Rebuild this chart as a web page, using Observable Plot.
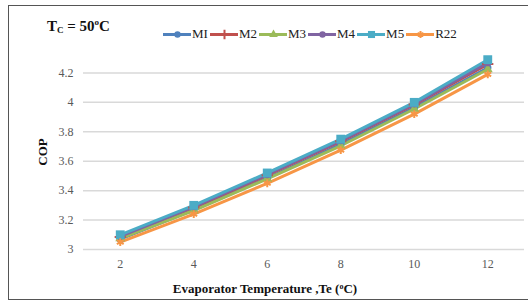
<!DOCTYPE html>
<html><head><meta charset="utf-8">
<script src="https://cdn.jsdelivr.net/npm/d3@7"></script>
<script src="https://cdn.jsdelivr.net/npm/@observablehq/plot@0.6"></script>
<style>
body{margin:0;background:#fff;font-family:"Liberation Serif","Times New Roman",serif;}
#wrap{position:relative;width:528px;height:303px;overflow:hidden;}
#frame{position:absolute;left:8px;top:5px;width:540px;height:295px;border:1.5px solid #555;box-sizing:border-box;}
#chart{position:absolute;left:0;top:0;}
#chart text{font-family:"Liberation Serif","Times New Roman",serif;}
#tc{position:absolute;left:47px;top:17px;font-weight:bold;font-size:15px;color:#111;}
#tc sub{font-size:9px;vertical-align:-2px;}
#tc sup{font-size:9px;}
#legend{position:absolute;left:163px;top:26px;display:flex;align-items:center;font-size:13px;color:#222;}
#legend .it{display:flex;align-items:center;margin-right:2px;}
#legend svg{display:block;}
</style></head><body>
<div id="wrap">
<div id="frame"></div>
<div id="chart"></div>
<div id="tc">T<sub>C</sub> = 50<sup>o</sup>C</div>
<div id="legend"></div>
</div>
<script>
const temps = [2, 4, 6, 8, 10, 12];
const seriesNames = ["MI", "M2", "M3", "M4", "M5", "R22"];
const M1 = [3.07, 3.27, 3.485, 3.715, 3.965, 4.235];
const M2 = [3.085, 3.285, 3.505, 3.735, 3.985, 4.26];
const M3 = [3.075, 3.265, 3.48, 3.705, 3.955, 4.225];
const M4 = [3.09, 3.29, 3.51, 3.74, 3.99, 4.27];
const M5 = [3.10, 3.30, 3.52, 3.75, 4.00, 4.29];
const R22 = [3.05, 3.24, 3.45, 3.675, 3.92, 4.19];
const yTicks = [3, 3.2, 3.4, 3.6, 3.8, 4, 4.2];
const colors = ["#4F81BD", "#C0504D", "#9BBB59", "#8064A2", "#4BACC6", "#F79646"];
const symbols = ["circle", "plus", "triangle", "circle", "square", "asterisk"];
const filled = [true, false, true, true, true, false];
const values = [M1, M2, M3, M4, M5, R22];

const data = [];
seriesNames.forEach((s, i) => temps.forEach((t, j) => data.push({series: s, t, cop: values[i][j]})));

const marks = [
  Plot.gridY(yTicks, {stroke: "#d9d9d9", strokeOpacity: 1, strokeWidth: 1.5}),
];
seriesNames.forEach((s, i) => {
  const d = data.filter(r => r.series === s);
  marks.push(Plot.line(d, {x: "t", y: "cop", stroke: colors[i], strokeWidth: 3}));
});
seriesNames.forEach((s, i) => {
  const d = data.filter(r => r.series === s);
  marks.push(Plot.dot(d, {x: "t", y: "cop", symbol: () => symbols[i], r: symbols[i] === "square" ? 5 : 3.7,
    fill: filled[i] ? colors[i] : "none", stroke: colors[i], strokeWidth: filled[i] ? 0 : 2}));
});

const chart = Plot.plot({
  width: 528, height: 303,
  marginLeft: 83, marginRight: 4, marginTop: 43, marginBottom: 54,
  style: {fontFamily: "Liberation Serif, serif", fontSize: "12px", color: "#595959", background: "transparent"},
  x: {domain: [1, 13], ticks: temps, tickSize: 0, tickPadding: 10, label: null},
  y: {domain: [3, 4.4], ticks: yTicks, tickSize: 0, tickPadding: 10, label: null, tickFormat: d => String(+d.toFixed(1))},
  symbol: {type: "identity"},
  marks
});
const ns = "http://www.w3.org/2000/svg";
const xt = document.createElementNS(ns, "text");
xt.setAttribute("x", 265); xt.setAttribute("y", 293);
xt.setAttribute("text-anchor", "middle");
xt.setAttribute("font-weight", "bold"); xt.setAttribute("font-size", "13");
xt.setAttribute("fill", "#111");
xt.innerHTML = 'Evaporator Temperature ,Te (<tspan dy="-4" font-size="8">o</tspan><tspan dy="4">C)</tspan>';
chart.appendChild(xt);
const yt = document.createElementNS(ns, "text");
yt.setAttribute("transform", "translate(47,152) rotate(-90)");
yt.setAttribute("text-anchor", "middle");
yt.setAttribute("font-weight", "bold"); yt.setAttribute("font-size", "13");
yt.setAttribute("fill", "#111");
yt.textContent = "COP";
chart.appendChild(yt);
document.getElementById("chart").appendChild(chart);

// legend
const leg = document.getElementById("legend");
seriesNames.forEach((s, i) => {
  const it = document.createElement("div"); it.className = "it";
  const sw = Plot.plot({
    width: 28, height: 14, margin: 0, axis: null,
    x: {domain: [0, 1]}, y: {domain: [0, 1]},
    symbol: {type: "identity"},
    style: {background: "transparent"},
    marks: [
      Plot.line([[0, 0.5], [1, 0.5]], {stroke: colors[i], strokeWidth: 3}),
      Plot.dot([[0.5, 0.5]], {symbol: () => symbols[i], r: symbols[i] === "square" ? 4 : 3.2,
        fill: filled[i] ? colors[i] : "none", stroke: colors[i], strokeWidth: filled[i] ? 0 : 2})
    ]
  });
  it.appendChild(sw);
  const lab = document.createElement("span"); lab.textContent = s; lab.style.marginLeft = "1px";
  it.appendChild(lab);
  leg.appendChild(it);
});
</script>
</body></html>
